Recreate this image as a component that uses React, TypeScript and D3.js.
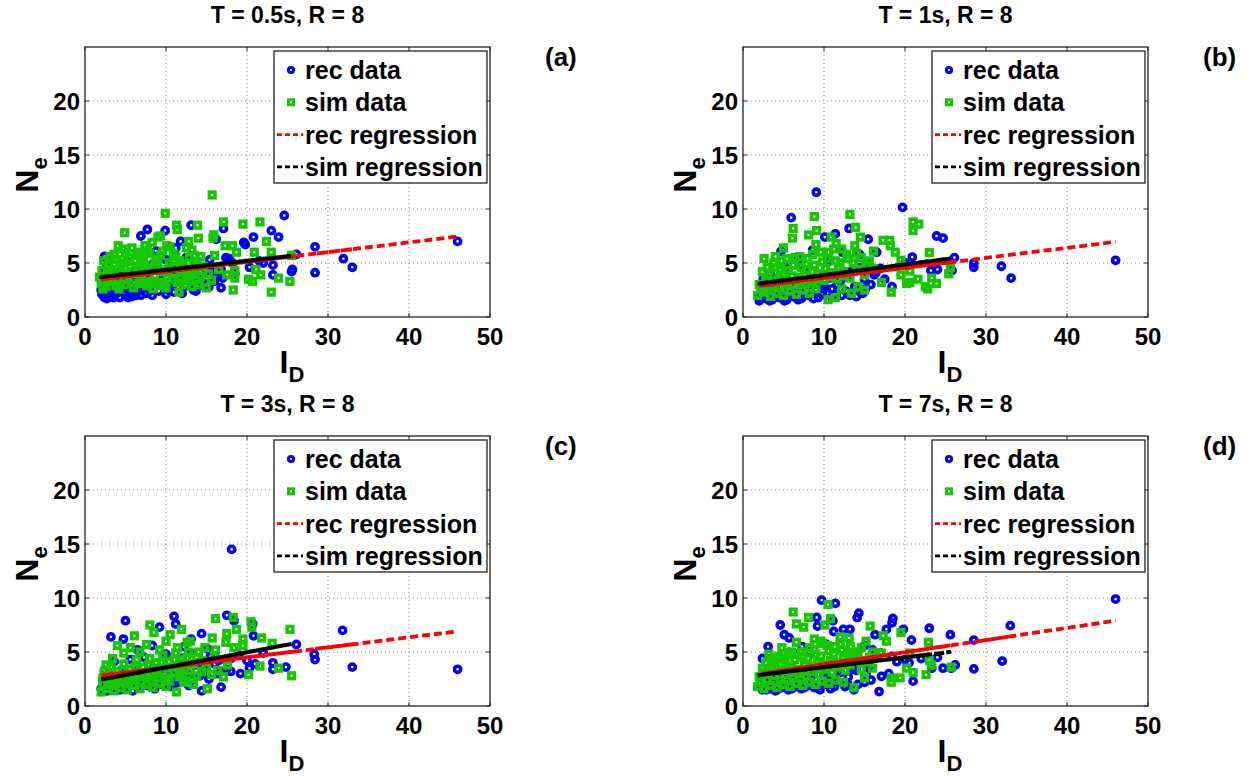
import React, { useRef, useEffect } from 'react';
import * as d3 from 'd3';

type Pt = [number, number];

const xTicks = [0, 10, 20, 30, 40, 50];
const yTicks = [0, 5, 10, 15, 20];
const titles = ['T = 0.5s, R = 8', 'T = 1s, R = 8', 'T = 3s, R = 8', 'T = 7s, R = 8'];
const tags = ['(a)', '(b)', '(c)', '(d)'];
const legendLabels = ['rec data', 'sim data', 'rec regression', 'sim regression'];

// [intercept, slope]
const recFits: Pt[] = [[3.3, 0.0902], [2.7, 0.0926], [2.65, 0.0927], [2.73, 0.1125]];
const simFits: Pt[] = [[3.53, 0.0837], [2.9, 0.0983], [2.17, 0.1403], [2.69, 0.0904]];

const recA: Pt[] = [
  [2.1, 2.1], [3.0, 2.0], [4.3, 1.8], [5.8, 1.9], [7.5, 2.2], [9.1, 2.4], [10.3, 2.5], [11.5, 2.7], [13.4, 2.5], [14.6, 2.9], [16.8, 2.7], [20.3, 4.6], [23.2, 3.9], [25.5, 4.2],
  [2.4, 1.8], [3.3, 2.6], [4.6, 2.9], [5.5, 2.4], [6.7, 2.6], [8.5, 2.9], [9.4, 3.9], [10.6, 3.3], [12.1, 3.6], [13.8, 3.1], [15.0, 3.6], [16.8, 3.9], [18.2, 5.0], [23.2, 4.8], [26.1, 5.8],
  [2.7, 1.7], [2.3, 2.7], [3.6, 3.4], [4.9, 3.7], [6.1, 3.2], [7.8, 3.5], [8.2, 4.8], [10.9, 4.4], [12.8, 4.1], [14.2, 4.7], [15.8, 4.2], [16.2, 4.3], [19.6, 6.9], [21.5, 5.2], [25.6, 4.4],
  [2.5, 3.3], [2.6, 4.5], [3.9, 2.2], [4.1, 4.0], [5.2, 5.1], [6.4, 4.3], [7.2, 5.6], [8.8, 6.1], [10.0, 5.3], [11.2, 6.4], [12.5, 5.5], [15.4, 5.3], [17.4, 5.5], [19.8, 6.7], [23.9, 7.4],
  [3.2, 1.9], [4.0, 2.3], [5.0, 2.1], [6.3, 2.0], [7.0, 2.8], [8.0, 2.4], [9.6, 2.9], [11.0, 2.3], [12.4, 2.9], [13.7, 2.4], [15.3, 2.8], [16.8, 4.4], [17.8, 5.4], [22.0, 5.0],
  [2.0, 2.5], [2.8, 2.4], [3.5, 1.8], [4.4, 2.5], [5.3, 1.8], [6.0, 2.6], [6.9, 2.0], [8.3, 2.0], [9.0, 3.3], [10.0, 2.1], [10.9, 3.0], [12.0, 2.2], [13.0, 3.6], [14.0, 3.5], [15.0, 4.3], [16.0, 3.3], [17.0, 3.6], [18.5, 4.0],
  [2.2, 3.9], [2.4, 5.6], [2.9, 5.2], [6.9, 7.5], [7.7, 8.1], [9.9, 8.0], [11.8, 7.0], [13.1, 8.5], [16.2, 7.2], [17.1, 8.2], [20.8, 7.4], [23.0, 8.0], [24.6, 9.4],
  [28.4, 6.5], [33.0, 4.6], [28.4, 4.1], [31.9, 5.4], [46.0, 7.0],
];
const simA: Pt[] = [
  [1.8, 3.7], [2.6, 2.8], [3.4, 3.3], [4.2, 2.6], [5.1, 3.0], [6.0, 2.7], [6.8, 3.4], [7.6, 2.9], [8.4, 2.6], [9.2, 3.2], [10.0, 2.7], [10.8, 3.5], [11.6, 2.3], [12.4, 3.0], [13.2, 2.8], [14.1, 3.0], [15.0, 2.7], [15.6, 3.4], [18.3, 2.5], [23.0, 2.3],
  [2.1, 4.3], [2.9, 4.8], [3.6, 4.1], [4.4, 4.6], [5.3, 4.0], [6.2, 4.5], [7.0, 3.9], [7.8, 4.4], [8.6, 3.8], [9.4, 4.2], [10.2, 3.6], [11.0, 4.0], [11.8, 3.6], [12.7, 4.3], [13.6, 3.9], [14.1, 3.0], [18.5, 3.6], [20.2, 3.5], [20.7, 3.3], [21.7, 3.9], [23.9, 3.6], [25.3, 3.3],
  [2.3, 5.2], [3.1, 5.6], [3.9, 5.3], [4.7, 6.3], [5.5, 5.5], [6.4, 5.8], [7.2, 5.2], [8.0, 5.9], [8.8, 5.4], [9.6, 6.1], [10.4, 5.0], [11.2, 5.6], [12.0, 4.9], [12.9, 5.5], [13.8, 5.1], [14.6, 4.7], [16.0, 5.7], [18.5, 4.3], [21.1, 4.4], [25.5, 5.7],
  [2.4, 3.4], [3.0, 4.2], [3.8, 2.9], [4.5, 5.0], [5.4, 3.6], [6.2, 5.2], [7.0, 4.6], [7.8, 3.2], [8.6, 5.0], [9.4, 2.9], [10.2, 4.4], [11.0, 5.2], [11.8, 4.3], [12.6, 3.5], [13.4, 4.2], [14.3, 5.6], [15.2, 4.0],
  [3.6, 5.8], [4.1, 6.6], [4.9, 7.8], [5.8, 6.4], [6.6, 6.0], [7.4, 6.6], [8.3, 6.9], [9.0, 7.4], [9.3, 7.5], [9.9, 9.6], [10.5, 6.5], [11.3, 8.5], [11.4, 8.1], [12.8, 7.0], [13.2, 6.2], [13.9, 8.5], [14.0, 7.3], [15.8, 7.3], [15.9, 7.6], [15.7, 11.3], [17.1, 8.8], [17.3, 6.6], [18.2, 6.6], [18.7, 6.0], [19.5, 8.6], [20.9, 6.0], [21.6, 8.8], [22.4, 7.0], [23.0, 6.0],
  [2.2, 2.6], [3.3, 3.9], [4.3, 4.9], [5.0, 5.9], [6.0, 4.2], [6.9, 5.6], [7.7, 6.2], [8.5, 4.6], [9.3, 5.7], [10.1, 6.6], [10.9, 5.9], [11.7, 5.2], [12.5, 6.4], [13.5, 5.7], [14.3, 3.8], [16.5, 4.4], [17.5, 3.9],
  [2.0, 3.1], [2.8, 3.6], [3.2, 4.4], [4.0, 3.5], [4.8, 3.4], [5.6, 4.7], [6.6, 3.1], [7.4, 4.8], [8.2, 3.3], [9.0, 4.9], [9.8, 3.0], [10.6, 4.6], [11.4, 3.2], [12.2, 4.6], [13.0, 3.4], [13.4, 4.8],
];

const recB: Pt[] = [
  [2.0, 1.5], [2.8, 1.7], [3.6, 1.6], [4.5, 1.8], [5.4, 1.6], [6.3, 1.9], [7.2, 1.7], [8.1, 2.0], [9.3, 1.8], [10.4, 2.2], [11.5, 2.0], [12.7, 2.4], [14.0, 1.9], [15.1, 2.6], [16.2, 3.9], [18.4, 2.8], [23.2, 4.3], [25.8, 4.3],
  [2.3, 2.4], [3.1, 2.9], [3.9, 2.3], [4.8, 3.3], [5.7, 2.6], [6.6, 3.1], [7.5, 2.5], [8.4, 3.4], [9.6, 2.9], [10.7, 3.6], [11.6, 3.0], [12.9, 3.7], [13.8, 2.8], [15.0, 3.5], [17.0, 4.5], [20.0, 5.0], [24.0, 4.4], [26.1, 5.5],
  [2.5, 3.5], [3.4, 4.0], [4.7, 6.1], [5.2, 4.6], [5.95, 9.2], [6.8, 5.3], [7.6, 4.4], [8.6, 6.2], [9.05, 11.55], [10.1, 7.4], [10.7, 5.2], [11.4, 7.7], [12.3, 6.0], [13.1, 8.2], [14.4, 5.8], [15.45, 7.2], [16.5, 6.0], [19.7, 10.15], [20.9, 5.55], [23.9, 7.5], [24.7, 7.3],
  [2.2, 1.9], [3.0, 2.1], [4.0, 2.6], [5.0, 2.2], [6.0, 2.4], [7.0, 2.2], [8.0, 2.7], [9.0, 2.5], [10.0, 2.9], [11.0, 2.6], [12.0, 3.3], [13.5, 4.3], [14.5, 4.6], [15.6, 5.0], [16.4, 4.1],
  [2.1, 1.7], [2.6, 2.0], [3.3, 1.5], [4.2, 1.9], [5.1, 1.5], [5.9, 2.0], [6.8, 1.6], [7.8, 2.1], [8.7, 1.7], [9.8, 2.1], [11.0, 1.8], [12.2, 2.0], [13.2, 2.0], [14.8, 2.2], [15.8, 3.0], [17.5, 3.5],
  [28.5, 5.0], [28.5, 4.6], [31.9, 4.7], [33.1, 3.6], [46.0, 5.25],
];
const simB: Pt[] = [
  [1.8, 2.0], [2.6, 2.3], [3.4, 1.9], [4.2, 2.2], [5.0, 2.0], [5.8, 2.4], [6.6, 2.1], [7.4, 2.5], [8.2, 2.2], [9.0, 2.6], [10.5, 1.6], [11.4, 1.8], [12.2, 2.6], [13.4, 2.2], [14.2, 2.8], [15.0, 2.5], [17.1, 3.2], [18.3, 2.3], [20.2, 3.1], [22.5, 2.8], [22.8, 2.6], [23.9, 3.1], [25.4, 4.0],
  [2.0, 3.0], [2.8, 3.4], [3.6, 2.9], [4.4, 3.6], [5.2, 3.1], [6.0, 3.8], [6.8, 3.2], [7.6, 3.9], [8.4, 3.3], [9.2, 4.0], [10.0, 3.4], [10.8, 4.1], [11.6, 3.5], [12.4, 4.2], [13.2, 3.6], [14.0, 4.4], [15.0, 3.9], [16.1, 4.5], [19.5, 3.9], [20.6, 3.2], [21.6, 3.5], [23.3, 3.6], [25.6, 4.6],
  [2.2, 2.6], [3.0, 2.6], [3.8, 3.3], [4.6, 2.7], [5.4, 3.5], [6.2, 3.0], [7.0, 3.7], [7.8, 3.1], [8.6, 4.2], [9.4, 3.5], [10.2, 4.5], [11.0, 3.7], [11.8, 4.6], [12.6, 3.8], [13.6, 5.0], [14.6, 4.4], [15.6, 5.2],
  [2.6, 5.4], [3.0, 4.6], [3.8, 5.0], [4.6, 4.4], [5.4, 5.4], [6.2, 4.8], [7.0, 5.6], [7.8, 4.9], [8.6, 5.8], [9.0, 6.7], [9.8, 5.1], [10.6, 6.0], [11.4, 5.2], [12.2, 6.3], [13.0, 5.4], [13.8, 6.6], [14.6, 5.5], [16.1, 6.1], [18.8, 6.0], [19.5, 5.25], [20.6, 4.25], [23.0, 5.96],
  [2.4, 4.2], [3.2, 3.8], [4.0, 4.6], [4.8, 5.2], [5.6, 4.3], [6.4, 5.5], [7.2, 4.6], [8.0, 5.4], [8.8, 4.8], [9.6, 6.0], [10.4, 5.4], [11.2, 6.3], [12.0, 5.0], [12.8, 5.8], [14.0, 5.9], [15.2, 4.8],
  [4.0, 5.6], [5.0, 6.4], [6.1, 7.3], [6.2, 8.2], [8.1, 7.6], [8.8, 9.3], [9.1, 8.0], [10.9, 7.4], [11.5, 6.8], [13.2, 9.5], [13.9, 8.3], [14.5, 7.4], [17.3, 7.1], [18.1, 7.1], [18.2, 6.6], [21.0, 8.8], [21.7, 8.6], [21.0, 8.0],
];

const recC: Pt[] = [
  [2.0, 1.6], [2.7, 1.4], [3.5, 1.7], [4.3, 1.5], [5.1, 1.8], [5.9, 1.4], [6.8, 1.7], [7.7, 1.9], [8.6, 1.6], [9.5, 2.0], [10.5, 1.8], [11.6, 2.2], [12.8, 1.9], [14.4, 1.4], [16.8, 1.75], [19.2, 3.0], [23.2, 3.4], [24.8, 3.6],
  [2.2, 2.4], [3.0, 2.8], [3.8, 2.3], [4.6, 3.0], [5.4, 2.5], [6.2, 3.2], [7.0, 2.6], [7.9, 3.3], [8.8, 2.7], [9.7, 3.5], [10.6, 2.9], [11.5, 3.7], [12.5, 3.1], [13.6, 3.8], [14.8, 3.3], [16.0, 3.9], [17.5, 3.4], [20.3, 3.5], [23.2, 4.0], [26.1, 5.7],
  [2.4, 3.3], [3.2, 6.4], [3.6, 4.1], [4.75, 6.2], [5.0, 7.9], [5.6, 4.3], [6.5, 5.2], [7.3, 4.5], [8.3, 5.6], [9.2, 7.3], [10.0, 4.8], [11.0, 8.3], [11.2, 7.6], [12.2, 5.5], [13.1, 6.2], [14.4, 6.7], [15.1, 5.3], [17.5, 8.4], [18.1, 14.5], [18.4, 7.9], [20.7, 7.6], [20.8, 6.5], [22.0, 4.9],
  [2.6, 2.0], [3.4, 2.2], [4.2, 2.6], [5.0, 2.1], [6.0, 2.4], [7.0, 2.0], [8.0, 2.3], [9.0, 2.5], [10.0, 2.2], [11.2, 2.6], [12.0, 4.4], [13.0, 4.9], [14.0, 4.0], [15.5, 4.6], [16.5, 4.2], [18.0, 4.4], [19.0, 4.7], [20.0, 4.2], [21.0, 3.9],
  [2.3, 1.9], [3.1, 1.8], [3.9, 2.0], [4.7, 1.6], [5.5, 2.0], [6.4, 1.8], [7.3, 2.3], [8.2, 1.8], [9.1, 2.2], [10.2, 2.4], [11.0, 2.0], [12.0, 2.5], [13.2, 2.4], [14.2, 2.8], [15.3, 2.5], [16.4, 3.0], [18.0, 3.2],
  [28.3, 4.8], [33.0, 3.6], [28.4, 4.3], [31.8, 7.0], [46.0, 3.4],
];
const simC: Pt[] = [
  [2.0, 1.3], [2.8, 1.6], [3.6, 1.4], [4.4, 1.7], [5.2, 1.5], [6.0, 1.9], [6.8, 1.6], [7.6, 2.0], [8.4, 1.7], [9.2, 2.1], [10.0, 1.8], [11.3, 1.3], [12.2, 2.2], [13.4, 2.0], [15.1, 1.6], [17.1, 2.7], [20.2, 2.9], [23.9, 3.5], [25.5, 2.8],
  [2.2, 2.6], [3.0, 3.0], [3.8, 2.7], [4.6, 3.3], [5.4, 2.9], [6.2, 3.6], [7.0, 3.1], [7.8, 3.8], [8.6, 3.3], [9.4, 4.0], [10.2, 3.5], [11.0, 4.3], [11.8, 3.7], [12.6, 4.5], [13.4, 3.9], [14.4, 3.2], [15.6, 2.9], [17.6, 3.8], [21.6, 3.7], [23.1, 5.8],
  [2.4, 3.2], [3.2, 3.6], [4.0, 3.2], [4.8, 3.9], [5.6, 3.4], [6.4, 4.3], [7.2, 3.6], [8.0, 4.4], [8.8, 4.0], [9.6, 4.7], [10.4, 4.1], [11.2, 4.9], [12.0, 4.3], [12.8, 5.0], [13.8, 4.5], [14.8, 5.4], [16.0, 4.6],
  [2.6, 3.8], [3.4, 4.4], [4.0, 5.6], [4.8, 4.9], [5.6, 5.4], [6.1, 6.5], [6.8, 5.0], [7.6, 5.7], [8.0, 7.5], [8.5, 6.8], [9.2, 5.2], [10.0, 6.0], [10.5, 6.6], [11.4, 5.4], [11.9, 7.1], [12.6, 5.9], [13.0, 6.0], [14.0, 5.0], [15.7, 6.3], [16.1, 5.2], [17.4, 5.9], [17.5, 6.7], [18.4, 5.4], [19.5, 6.2], [19.5, 5.6], [21.8, 6.3],
  [2.2, 2.0], [3.0, 2.4], [3.8, 2.1], [4.6, 2.5], [5.4, 2.2], [6.2, 2.5], [7.2, 2.8], [8.2, 2.3], [9.2, 2.6], [10.4, 2.3], [11.6, 2.7], [12.6, 2.4], [13.8, 2.8], [15.0, 3.6], [16.4, 3.3],
  [3.0, 2.0], [4.0, 2.4], [5.0, 2.1], [6.0, 2.8], [7.0, 2.2], [8.0, 2.7], [9.0, 3.0], [10.0, 2.6], [11.0, 3.1], [12.0, 2.9], [13.0, 3.3], [14.5, 4.2], [16.1, 8.1], [18.3, 8.2], [18.7, 7.1], [20.5, 7.8], [20.6, 7.3], [25.3, 7.1],
];

const recD: Pt[] = [
  [2.4, 1.5], [3.2, 1.6], [4.0, 1.4], [4.8, 1.7], [5.6, 1.5], [6.4, 1.8], [7.2, 1.6], [8.0, 1.9], [8.8, 1.7], [9.5, 1.5], [10.4, 2.0], [11.3, 1.8], [12.6, 1.8], [13.7, 1.5], [15.0, 2.2], [16.8, 1.34], [17.1, 2.75], [21.0, 2.3], [23.3, 3.5], [25.7, 3.5],
  [2.2, 2.4], [3.0, 2.8], [3.8, 2.3], [4.6, 3.0], [5.4, 2.6], [6.2, 3.2], [7.0, 2.7], [7.8, 3.4], [8.6, 2.9], [9.4, 3.6], [10.2, 3.0], [11.0, 3.8], [11.8, 3.2], [12.7, 4.0], [13.6, 3.4], [14.6, 4.2], [15.6, 3.7], [16.5, 4.6], [18.4, 4.6], [20.0, 4.3], [24.7, 3.5], [26.2, 3.8],
  [2.4, 4.4], [3.1, 5.5], [3.7, 4.0], [4.6, 7.5], [5.1, 6.6], [5.7, 6.3], [6.5, 4.8], [7.3, 5.5], [8.2, 5.0], [9.1, 8.2], [9.2, 7.4], [9.7, 9.8], [10.3, 5.7], [11.1, 7.9], [11.2, 6.9], [11.4, 9.5], [12.4, 7.1], [13.2, 7.1], [14.1, 8.2], [14.3, 8.6], [15.0, 5.6], [16.3, 6.6], [17.7, 7.1], [18.4, 7.7], [18.5, 8.1], [19.8, 7.1], [20.8, 6.1], [23.0, 7.2], [24.0, 4.5], [25.6, 6.6],
  [2.6, 2.0], [3.4, 2.2], [4.2, 2.6], [5.0, 2.1], [6.0, 2.5], [7.0, 2.2], [8.0, 2.6], [9.0, 2.4], [10.0, 2.8], [11.0, 2.5], [12.0, 3.1], [13.0, 2.7], [14.0, 3.3], [15.2, 3.0], [16.0, 5.2], [17.0, 4.9], [19.0, 4.1], [20.5, 4.0], [22.0, 4.4],
  [2.1, 1.8], [2.9, 1.5], [3.6, 1.9], [4.4, 1.6], [5.2, 1.9], [6.0, 1.6], [6.8, 2.0], [7.6, 1.7], [8.4, 2.1], [9.2, 1.8], [10.0, 2.3], [10.8, 1.6], [11.7, 2.2], [12.9, 2.1], [14.2, 2.0], [15.8, 2.4], [18.0, 3.0],
  [28.5, 6.1], [33.0, 7.44], [28.5, 3.44], [32.0, 4.16], [46.0, 9.9],
];
const simD: Pt[] = [
  [1.8, 1.8], [2.6, 1.6], [3.4, 1.9], [4.2, 1.7], [5.0, 2.0], [5.8, 1.8], [6.6, 2.1], [7.4, 1.9], [8.2, 2.2], [9.0, 2.0], [9.8, 2.3], [10.6, 2.1], [11.4, 2.4], [12.4, 2.2], [13.7, 1.7], [15.0, 2.6], [18.3, 2.2], [18.3, 2.6], [19.4, 2.6], [21.0, 3.1], [22.6, 2.9], [25.7, 3.6],
  [2.0, 2.7], [2.8, 3.1], [3.6, 4.4], [4.4, 3.3], [5.2, 2.9], [6.0, 3.6], [6.8, 3.0], [7.6, 3.8], [8.4, 3.2], [9.2, 4.0], [10.0, 3.4], [10.8, 4.2], [11.6, 3.6], [12.4, 4.4], [13.2, 3.8], [14.0, 4.6], [15.0, 4.1], [16.0, 3.5], [17.1, 4.9], [20.2, 3.5], [23.0, 4.2], [23.3, 3.8],
  [2.2, 2.2], [3.0, 2.4], [3.8, 2.8], [4.6, 2.4], [5.4, 3.3], [6.2, 2.6], [7.0, 3.4], [7.8, 2.7], [8.6, 3.6], [9.4, 2.9], [10.2, 3.8], [11.0, 3.1], [11.8, 4.0], [12.6, 3.3], [13.6, 4.2], [14.6, 3.4], [15.6, 4.5],
  [2.8, 4.0], [3.6, 3.6], [4.4, 4.6], [5.2, 4.1], [6.0, 5.0], [6.6, 5.9], [7.4, 4.6], [8.2, 5.4], [9.0, 4.8], [9.8, 5.8], [10.6, 5.1], [11.4, 5.5], [12.0, 6.4], [13.1, 6.3], [13.3, 5.5], [14.2, 5.0], [15.2, 6.0], [15.7, 7.4], [17.3, 6.5], [17.7, 6.0], [19.5, 6.8], [20.6, 4.9], [22.9, 5.9],
  [2.4, 3.5], [3.2, 4.8], [4.0, 4.0], [4.8, 4.4], [5.6, 4.8], [6.4, 4.3], [7.2, 5.0], [8.0, 4.4], [8.8, 5.2], [9.6, 4.6], [10.4, 5.6], [11.2, 4.8], [12.2, 5.2], [13.2, 4.6], [14.4, 4.2],
  [4.8, 5.4], [5.6, 5.0], [6.2, 8.7], [6.6, 7.6], [7.5, 7.3], [8.1, 8.2], [8.8, 6.2], [9.6, 6.0], [10.1, 7.5], [10.5, 9.4], [10.8, 8.1], [12.0, 5.7], [13.0, 4.9], [14.6, 5.4], [16.0, 5.0],
];

const recSets = [recA, recB, recC, recD];
const simSets = [simA, simB, simC, simD];

const FONT = '"Liberation Sans", Arial, Helvetica, sans-serif';
const BLUE = '#0000ff';
const GREEN = '#14c800';

const App = () => {
  const ref = useRef<SVGSVGElement>(null);

  useEffect(() => {
    const svg = d3.select(ref.current);
    svg.selectAll('*').remove();

    const W = 405, H = 270;
    const origins = [[85, 47], [743, 47], [85, 436], [743, 436]];

    origins.forEach(([left, top], i) => {
      const x = d3.scaleLinear().domain([0, 50]).range([left, left + W]);
      const y = d3.scaleLinear().domain([0, 25]).range([top + H, top]);
      const g = svg.append('g').attr('font-family', FONT);

      g.append('rect').attr('x', left).attr('y', top).attr('width', W).attr('height', H).attr('fill', '#fff');

      // dotted grid
      g.selectAll('.gx').data(xTicks.slice(1, -1)).enter().append('line')
        .attr('x1', d => x(d)).attr('x2', d => x(d)).attr('y1', top).attr('y2', top + H)
        .attr('stroke', '#666').attr('stroke-width', 0.8).attr('stroke-dasharray', '1,3');
      g.selectAll('.gy').data(yTicks.slice(1)).enter().append('line')
        .attr('x1', left).attr('x2', left + W).attr('y1', d => y(d)).attr('y2', d => y(d))
        .attr('stroke', '#666').attr('stroke-width', 0.8).attr('stroke-dasharray', '1,3');

      // scatter
      const rec = recSets[i], sim = simSets[i];
      g.selectAll('.rec').data(rec).enter().append('circle')
        .attr('cx', d => x(d[0])).attr('cy', d => y(d[1])).attr('r', 3.1)
        .attr('fill', 'none').attr('stroke', BLUE).attr('stroke-width', 3.6);
      g.selectAll('.sim').data(sim).enter().append('rect')
        .attr('x', d => x(d[0]) - 2.8).attr('y', d => y(d[1]) - 2.8).attr('width', 5.6).attr('height', 5.6)
        .attr('fill', 'none').attr('stroke', GREEN).attr('stroke-width', 3.6);

      // regression lines, traced through the data in plotting order
      const [ra, rb] = recFits[i], [sa, sb] = simFits[i];
      const recLine = d3.line<Pt>().x(d => x(d[0])).y(d => y(ra + rb * d[0]));
      const simLine = d3.line<Pt>().x(d => x(d[0])).y(d => y(sa + sb * d[0]));
      g.append('path').attr('d', recLine(rec)).attr('fill', 'none').attr('stroke', '#ff0000')
        .attr('stroke-width', 3.8).attr('stroke-dasharray', '8,4');
      g.append('path').attr('d', simLine(sim)).attr('fill', 'none').attr('stroke', '#000')
        .attr('stroke-width', 4).attr('stroke-dasharray', '8,4');

      // box + ticks on all sides
      g.append('rect').attr('x', left).attr('y', top).attr('width', W).attr('height', H)
        .attr('fill', 'none').attr('stroke', '#222').attr('stroke-width', 1.3);
      xTicks.forEach(t => {
        g.append('line').attr('x1', x(t)).attr('x2', x(t)).attr('y1', top + H).attr('y2', top + H - 4).attr('stroke', '#222');
        g.append('line').attr('x1', x(t)).attr('x2', x(t)).attr('y1', top).attr('y2', top + 4).attr('stroke', '#222');
      });
      yTicks.forEach(t => {
        g.append('line').attr('x1', left).attr('x2', left + 4).attr('y1', y(t)).attr('y2', y(t)).attr('stroke', '#222');
        g.append('line').attr('x1', left + W).attr('x2', left + W - 4).attr('y1', y(t)).attr('y2', y(t)).attr('stroke', '#222');
      });

      g.selectAll('.xt').data(xTicks).enter().append('text')
        .attr('x', d => x(d)).attr('y', top + H + 28).attr('text-anchor', 'middle')
        .attr('font-size', 24).attr('font-weight', 'bold').text(d => d);
      g.selectAll('.yt').data(yTicks).enter().append('text')
        .attr('x', left - 5).attr('y', d => y(d) + 8.5).attr('text-anchor', 'end')
        .attr('font-size', 24).attr('font-weight', 'bold').text(d => d);

      g.append('text').attr('x', left + W / 2).attr('y', top - 24).attr('text-anchor', 'middle')
        .attr('font-size', 23).attr('font-weight', 'bold').text(titles[i]);
      g.append('text').attr('x', left + 460).attr('y', top + 19)
        .attr('font-size', 26).attr('font-weight', 'bold').text(tags[i]);

      const xl = g.append('text').attr('x', left + 207).attr('y', top + H + 56)
        .attr('text-anchor', 'middle').attr('font-size', 32).attr('font-weight', 'bold');
      xl.append('tspan').text('I');
      xl.append('tspan').attr('font-size', 22).attr('dy', 9).text('D');

      const yl = g.append('text').attr('transform', `translate(${left - 47},${top + 128}) rotate(-90)`)
        .attr('text-anchor', 'middle').attr('font-size', 32).attr('font-weight', 'bold');
      yl.append('tspan').text('N');
      yl.append('tspan').attr('font-size', 22).attr('dy', 9).text('e');

      // legend
      const lx = left + 189, ly = top + 4;
      const lg = g.append('g');
      lg.append('rect').attr('x', lx).attr('y', ly).attr('width', 213).attr('height', 132)
        .attr('fill', '#fff').attr('stroke', '#222').attr('stroke-width', 1.3);
      legendLabels.forEach((lab, k) => {
        const cy = ly + 19 + k * 32.3;
        if (k === 0) {
          lg.append('circle').attr('cx', lx + 17).attr('cy', cy).attr('r', 2.6)
            .attr('fill', 'none').attr('stroke', BLUE).attr('stroke-width', 3);
        } else if (k === 1) {
          lg.append('rect').attr('x', lx + 14.5).attr('y', cy - 2.5).attr('width', 5).attr('height', 5)
            .attr('fill', 'none').attr('stroke', GREEN).attr('stroke-width', 3);
        } else {
          lg.append('line').attr('x1', lx + 3).attr('x2', lx + 29).attr('y1', cy).attr('y2', cy)
            .attr('stroke', k === 2 ? '#ff0000' : '#000').attr('stroke-width', 2.6).attr('stroke-dasharray', '5,3');
        }
        lg.append('text').attr('x', lx + 31).attr('y', cy + 9).attr('font-size', 25)
          .attr('font-weight', 'bold').text(lab);
      });
    });
  }, []);

  return (
    <svg ref={ref} width={1258} height={776}
      style={{ position: 'absolute', left: 0, top: 0, background: '#fff' }} />
  );
};

export default App;
